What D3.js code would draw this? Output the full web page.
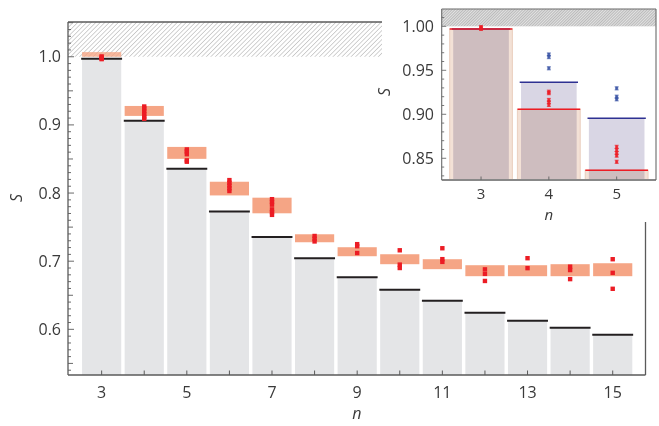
<!DOCTYPE html>
<html><head><meta charset="utf-8">
<script src="https://cdn.jsdelivr.net/npm/d3@7"></script>
<style>
body{margin:0;background:#fff}
text{font-family:"Open Sans","Lato",sans-serif;fill:#3a3a3a}
</style></head><body>
<svg id="c" width="659" height="426"></svg>
<script>
// ---------- main panel data ----------
const nValues = [3,4,5,6,7,8,9,10,11,12,13,14,15];
const theory = [0.997,0.906,0.8356,0.773,0.7356,0.7044,0.6766,0.658,0.6418,0.6244,0.6127,0.6024,0.5922];
const bandLow  = [1.000,0.9132,0.8502,0.7965,0.7703,0.7278,0.7073,0.6956,0.6883,0.678,0.678,0.678,0.678];
const bandHigh = [1.0068,0.9278,0.8677,0.8166,0.7932,0.7395,0.7205,0.7102,0.7029,0.6941,0.6941,0.6956,0.697];
const measured = [
  [1.0005,0.999,0.9975,0.9965],
  [0.927,0.924,0.920,0.916,0.912,0.909],
  [0.864,0.861,0.857,0.848,0.846],
  [0.819,0.815,0.811,0.807,0.803],
  [0.791,0.787,0.783,0.776,0.772,0.768],
  [0.737,0.733,0.729],
  [0.725,0.722,0.712],
  [0.716,0.695,0.690],
  [0.719,0.703,0.699],
  [0.688,0.6814,0.671],
  [0.7044,0.6898],
  [0.692,0.687,0.6737],
  [0.7029,0.6829,0.6595]
];
const xTickLabels = [3,5,7,9,11,13,15];
const yTickLabels = [0.6,0.7,0.8,0.9,1.0];

// ---------- inset data ----------
const insetN = [3,4,5];
const insetRed = [0.997,0.9057,0.8364];
const insetBlue = [0.997,0.9364,0.8955];
const insetRedPts = [[0.9992,0.998,0.997],[0.9257,0.924,0.9163,0.9136,0.9106],[0.863,0.8595,0.856,0.853,0.846]];
const insetBluePts = [[],[0.968,0.965,0.9523],[0.9295,0.920,0.917]];
const insetYTicks = [0.85,0.90,0.95,1.00];

const svg = d3.select("#c");
const defs = svg.append("defs");
const p1 = defs.append("pattern").attr("id","hatch").attr("patternUnits","userSpaceOnUse")
  .attr("width",3.2).attr("height",3.2).attr("patternTransform","rotate(45)");
p1.append("line").attr("x1",0).attr("y1",0).attr("x2",0).attr("y2",3.2).attr("stroke","#9a9a9a").attr("stroke-width",0.9);
const p2 = defs.append("pattern").attr("id","hatch2").attr("patternUnits","userSpaceOnUse")
  .attr("width",2).attr("height",2).attr("patternTransform","rotate(45)");
p2.append("rect").attr("width",2).attr("height",2).attr("fill","#e2e2e2");
p2.append("line").attr("x1",0).attr("y1",0).attr("x2",0).attr("y2",2).attr("stroke","#8a8a8a").attr("stroke-width",0.9);

// ---------- main panel ----------
const x = d3.scaleLinear().domain([2.21,15.77]).range([68,645.5]);
const y = d3.scaleLinear().domain([0.533,1.051]).range([375,22]);
const u = x(1)-x(0);
const g = svg.append("g");

// hatch region above S=1
g.append("rect").attr("x",x.range()[0]).attr("y",y(1.051)).attr("width",382-68).attr("height",y(1.0)-y(1.051)).attr("fill","url(#hatch)");

// grey bars
g.selectAll(".bar").data(nValues).join("rect")
  .attr("x",(d)=>x(d)-0.46*u).attr("width",0.92*u)
  .attr("y",(d,i)=>y(theory[i])).attr("height",(d,i)=>y(0.533)-y(theory[i]))
  .attr("fill","#e4e5e7");
// salmon bands
g.selectAll(".band").data(nValues).join("rect")
  .attr("x",(d)=>x(d)-0.46*u).attr("width",0.92*u)
  .attr("y",(d,i)=>y(bandHigh[i])).attr("height",(d,i)=>y(bandLow[i])-y(bandHigh[i]))
  .attr("fill","#f5a585").attr("opacity",(d,i)=>i===0?0.8:1);
// theory lines
g.selectAll(".tl").data(nValues).join("line")
  .attr("x1",(d)=>x(d)-0.48*u).attr("x2",(d)=>x(d)+0.48*u)
  .attr("y1",(d,i)=>y(theory[i])).attr("y2",(d,i)=>y(theory[i]))
  .attr("stroke","#231f20").attr("stroke-width",2);
// measured points
nValues.forEach((n,i)=>{
  g.selectAll(null).data(measured[i]).join("rect")
    .attr("x",x(n)-2.2).attr("y",(v)=>y(v)-2.2).attr("width",4.4).attr("height",4.4)
    .attr("fill","#ec1c24");
});

// axes frame
const ax = "#5a5a5a";
g.append("line").attr("x1",68).attr("x2",645.5).attr("y1",375).attr("y2",375).attr("stroke",ax).attr("stroke-width",1.3);
g.append("line").attr("x1",68).attr("x2",68).attr("y1",22).attr("y2",375).attr("stroke",ax).attr("stroke-width",1.3);
g.append("line").attr("x1",68).attr("x2",382).attr("y1",22).attr("y2",22).attr("stroke",ax).attr("stroke-width",1.3);
g.append("line").attr("x1",645.5).attr("x2",645.5).attr("y1",222).attr("y2",375).attr("stroke",ax).attr("stroke-width",1.3);

// y ticks (inward)
const yMinor = d3.range(54,106).map(v=>v/100);
g.selectAll(".ym").data(yMinor).join("line")
  .attr("x1",68).attr("x2",(v)=>{const k=Math.round(v*100); return 68+(k%10===0?6:(k%5===0?5:3));})
  .attr("y1",(v)=>y(v)).attr("y2",(v)=>y(v)).attr("stroke",ax).attr("stroke-width",0.9);
g.selectAll(".yl").data(yTickLabels).join("text")
  .attr("x",61).attr("y",(v)=>y(v)+5.5).attr("text-anchor","end").attr("font-size",16)
  .text((v)=>v.toFixed(1));
// x ticks
g.selectAll(".xt").data(nValues).join("line")
  .attr("x1",(d)=>x(d)).attr("x2",(d)=>x(d)).attr("y1",375).attr("y2",370.5)
  .attr("stroke",ax).attr("stroke-width",1);
g.selectAll(".xl").data(xTickLabels).join("text")
  .attr("x",(d)=>x(d)).attr("y",398).attr("text-anchor","middle").attr("font-size",16).text((d)=>d);
g.append("text").attr("x",(68+645.5)/2).attr("y",419).attr("text-anchor","middle")
  .attr("font-size",16).attr("font-style","italic").text("n");
g.append("text").attr("transform","translate(22,198) rotate(-90)").attr("text-anchor","middle")
  .attr("font-size",16).attr("font-style","italic").text("S");

// ---------- inset ----------
svg.append("rect").attr("x",382.5).attr("y",0).attr("width",277).attr("height",221.5).attr("fill","#fff");
const x2 = d3.scaleLinear().domain([2.42,5.58]).range([441.7,656]);
const y2 = d3.scaleLinear().domain([0.8253,1.0197]).range([180,9]);
const u2 = x2(1)-x2(0);
const h = svg.append("g");
h.append("rect").attr("x",441.7).attr("y",9).attr("width",656-441.7).attr("height",y2(1.0)-9).attr("fill","url(#hatch2)");
// beige bars
h.selectAll(".rb").data(insetN).join("rect")
  .attr("x",(d)=>x2(d)-0.4625*u2).attr("width",0.925*u2)
  .attr("y",(d,i)=>y2(insetRed[i])).attr("height",(d,i)=>180-y2(insetRed[i]))
  .attr("fill","#f3e1d6").attr("stroke","#ecd3c4").attr("stroke-width",1.2);
// blue bars (multiply to give mauve overlap)
h.selectAll(".bb").data(insetN).join("rect")
  .attr("x",(d)=>x2(d)-0.41*u2).attr("width",0.82*u2)
  .attr("y",(d,i)=>y2(insetBlue[i])).attr("height",(d,i)=>180-y2(insetBlue[i]))
  .attr("fill","#d9d6e4").style("mix-blend-mode","multiply");
// blue lines
h.selectAll(".bl").data(insetN).join("line")
  .attr("x1",(d)=>x2(d)-0.43*u2).attr("x2",(d)=>x2(d)+0.43*u2)
  .attr("y1",(d,i)=>y2(insetBlue[i])).attr("y2",(d,i)=>y2(insetBlue[i]))
  .attr("stroke","#2e3192").attr("stroke-width",1.4);
// red lines
h.selectAll(".rl").data(insetN).join("line")
  .attr("x1",(d)=>x2(d)-0.4625*u2).attr("x2",(d)=>x2(d)+0.4625*u2)
  .attr("y1",(d,i)=>y2(insetRed[i])).attr("y2",(d,i)=>y2(insetRed[i]))
  .attr("stroke","#ed1c24").attr("stroke-width",1.4);
// points with error bars
function pts(arr,color,err){
  insetN.forEach((n,i)=>{
    arr[i].forEach(v=>{
      const cx=x2(n);
      h.append("line").attr("x1",cx).attr("x2",cx).attr("y1",y2(v+err)).attr("y2",y2(v-err)).attr("stroke",color).attr("stroke-width",0.8).attr("opacity",0.85);
      [v+err,v-err].forEach(e=>h.append("line").attr("x1",cx-2).attr("x2",cx+2).attr("y1",y2(e)).attr("y2",y2(e)).attr("stroke",color).attr("stroke-width",0.8).attr("opacity",0.85));
      h.append("rect").attr("x",cx-1.5).attr("y",y2(v)-1.5).attr("width",3).attr("height",3).attr("fill",color).attr("opacity",0.85);
    });
  });
}
pts(insetRedPts,"#ed1c24",0.0018);
pts(insetBluePts,"#3953a4",0.0018);
// inset frame
const ax2="#6a6a6a";
h.append("line").attr("x1",441.7).attr("x2",656).attr("y1",180).attr("y2",180).attr("stroke","#888").attr("stroke-width",2);
h.append("line").attr("x1",441.7).attr("x2",441.7).attr("y1",9).attr("y2",180).attr("stroke",ax2).attr("stroke-width",1.1);
h.append("line").attr("x1",441.7).attr("x2",656).attr("y1",9).attr("y2",9).attr("stroke",ax2).attr("stroke-width",1.1);
h.append("line").attr("x1",656).attr("x2",656).attr("y1",9).attr("y2",180).attr("stroke",ax2).attr("stroke-width",1.1);
const y2Minor = d3.range(83,102).map(v=>v/100);
h.selectAll(".ym2").data(y2Minor).join("line")
  .attr("x1",441.7).attr("x2",(v)=>441.7+(Math.round(v*100)%5===0?4.5:2.5))
  .attr("y1",(v)=>y2(v)).attr("y2",(v)=>y2(v)).attr("stroke",ax2).attr("stroke-width",0.9);
h.selectAll(".yl2").data(insetYTicks).join("text")
  .attr("x",434).attr("y",(v)=>y2(v)+5.5).attr("text-anchor","end").attr("font-size",16)
  .text((v)=>v.toFixed(2));
h.selectAll(".xt2").data(insetN).join("line")
  .attr("x1",(d)=>x2(d)).attr("x2",(d)=>x2(d)).attr("y1",180).attr("y2",176.5).attr("stroke",ax2).attr("stroke-width",1);
h.selectAll(".xl2").data(insetN).join("text")
  .attr("x",(d)=>x2(d)).attr("y",199).attr("text-anchor","middle").attr("font-size",15).text((d)=>d);
h.append("text").attr("x",x2(4)).attr("y",220).attr("text-anchor","middle")
  .attr("font-size",15).attr("font-style","italic").text("n");
h.append("text").attr("transform","translate(390,92) rotate(-90)").attr("text-anchor","middle")
  .attr("font-size",16).attr("font-style","italic").text("S");
</script>
</body></html>
